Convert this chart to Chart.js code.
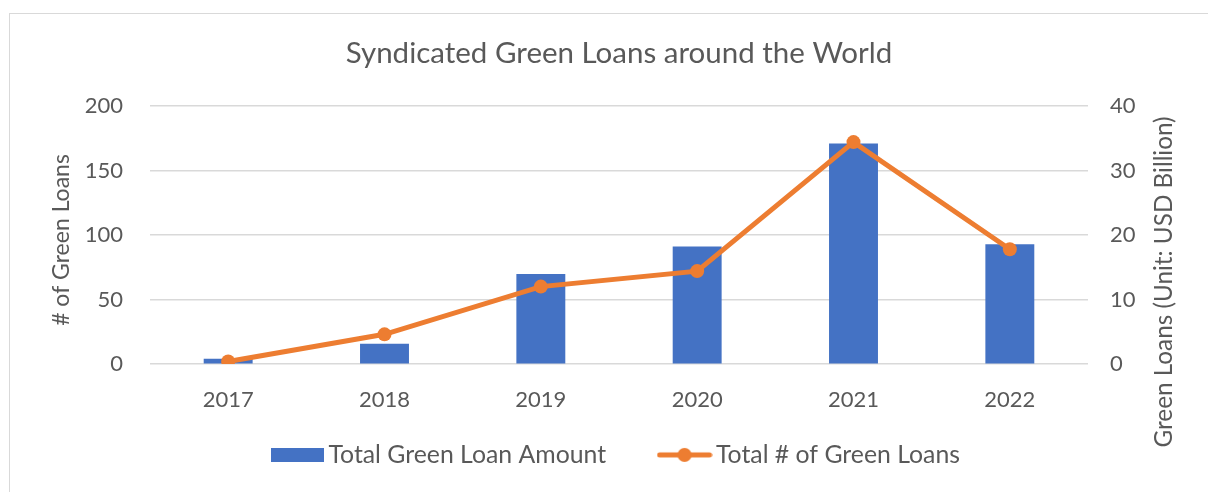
<!DOCTYPE html>
<html>
<head>
<meta charset="utf-8">
<script src="https://cdn.jsdelivr.net/npm/chart.js@4/dist/chart.umd.min.js"></script>
<style>
  html, body { margin: 0; padding: 0; background: #fff; }
  #wrap { position: relative; width: 1208px; height: 492px; overflow: hidden; }
  #frame { position: absolute; left: 9px; top: 13px; width: 1300px; height: 600px; border: 1.5px solid #d9d9d9; box-sizing: border-box; }
  canvas { position: absolute; left: 0; top: 0; }
</style>
</head>
<body>
<div id="wrap">
  <div id="frame"></div>
  <canvas id="loanChart" width="1208" height="492"></canvas>
</div>
<script>
const years = ['2017', '2018', '2019', '2020', '2021', '2022'];
// USD billion (right axis)
const loanAmount = [0.8, 3.15, 13.95, 18.2, 34.2, 18.55];
// number of loans (left axis)
const loanCount = [2, 23, 60, 72, 172, 89];
const leftTicks = [0, 50, 100, 150, 200];
const rightTicks = [0, 10, 20, 30, 40];

const BLUE = '#4472C4';
const ORANGE = '#ED7D31';
const TEXT = '#595959';
const FONT = 'Lato';

// legend symbols
function barSymbol() {
    const c = document.createElement('canvas');
    c.width = 53; c.height = 14;
    const g = c.getContext('2d');
    g.fillStyle = BLUE;
    g.fillRect(0, 0, 53, 14);
    return c;
}
function lineSymbol() {
    const c = document.createElement('canvas');
    c.width = 56; c.height = 16;
    const g = c.getContext('2d');
    g.strokeStyle = ORANGE;
    g.lineWidth = 5;
    g.lineCap = 'round';
    g.beginPath();
    g.moveTo(3, 8); g.lineTo(53, 8);
    g.stroke();
    g.fillStyle = ORANGE;
    g.beginPath();
    g.arc(28, 8, 7, 0, Math.PI * 2);
    g.fill();
    return c;
}

// axis titles drawn by hand so they sit where Excel put them
const axisTitles = {
    id: 'axisTitles',
    afterLayout(chart) {
        // let the year labels spill below the (short) x box
        chart.scales.x.bottom = 430;
    },
    afterDraw(chart) {
        const ctx = chart.ctx;
        const draw = (text, x, y, size) => {
            ctx.save();
            ctx.translate(x, y);
            ctx.rotate(-Math.PI / 2);
            ctx.font = size + 'px ' + FONT;
            ctx.fillStyle = TEXT;
            ctx.textAlign = 'center';
            ctx.textBaseline = 'middle';
            ctx.fillText(text, 0, 0);
            ctx.restore();
        };
        draw('# of Green Loans', 62, 240, 23);
        draw('Green Loans (Unit: USD Billion)', 1164, 282, 24.3);
    }
};

const ctx = document.getElementById('loanChart').getContext('2d');
new Chart(ctx, {
    data: {
        labels: years,
        datasets: [{
            type: 'bar',
            label: 'Total Green Loan Amount',
            data: loanAmount,
            yAxisID: 'y1',
            backgroundColor: BLUE,
            categoryPercentage: 1,
            barPercentage: 0.313,
            order: 2
        }, {
            type: 'line',
            label: 'Total # of Green Loans',
            data: loanCount,
            yAxisID: 'y',
            borderColor: ORANGE,
            backgroundColor: ORANGE,
            borderWidth: 5,
            pointRadius: 7,
            pointHoverRadius: 7,
            pointBorderWidth: 0,
            pointBackgroundColor: ORANGE,
            tension: 0,
            order: 1
        }]
    },
    options: {
        responsive: false,
        animation: false,
        layout: { padding: { left: 30, right: 0, top: 0, bottom: 14.7 } },
        plugins: {
            title: {
                display: true,
                text: 'Syndicated Green Loans around the World',
                color: TEXT,
                font: { family: FONT, size: 29.5, weight: 'normal' },
                padding: { top: 35.8, bottom: 34.8 }
            },
            legend: {
                position: 'bottom',
                labels: {
                    usePointStyle: true,
                    pointStyleWidth: 38,
                    padding: 59.5,
                    color: TEXT,
                    font: { family: FONT, size: 24.8 },
                    generateLabels: function () {
                        return [
                            { text: 'Total Green Loan Amount', pointStyle: barSymbol(), fontColor: TEXT, datasetIndex: 0, hidden: false, lineWidth: 0 },
                            { text: 'Total # of Green Loans', pointStyle: lineSymbol(), fontColor: TEXT, datasetIndex: 1, hidden: false, lineWidth: 0 }
                        ];
                    }
                }
            },
            tooltip: { enabled: false }
        },
        scales: {
            x: {
                grid: { display: false, drawTicks: false },
                border: { display: false },
                ticks: { color: TEXT, font: { family: FONT, size: 22 }, padding: 23 },
                afterFit: function (scale) { scale.height = 19; }
            },
            y: {
                position: 'left',
                min: 0,
                max: 200,
                afterBuildTicks: function (scale) { scale.ticks = leftTicks.map(v => ({ value: v })); },
                grid: { color: '#d9d9d9', lineWidth: 1.5, drawTicks: false },
                border: { display: false },
                ticks: { color: TEXT, font: { family: FONT, size: 22 }, padding: 27 },
                afterFit: function (scale) { scale.width = 120; }
            },
            y1: {
                position: 'right',
                min: 0,
                max: 40,
                afterBuildTicks: function (scale) { scale.ticks = rightTicks.map(v => ({ value: v })); },
                grid: { drawOnChartArea: false, drawTicks: false },
                border: { display: false },
                ticks: { color: TEXT, font: { family: FONT, size: 22 }, padding: 22 },
                afterFit: function (scale) { scale.width = 120; }
            }
        }
    },
    plugins: [axisTitles]
});
</script>
</body>
</html>
